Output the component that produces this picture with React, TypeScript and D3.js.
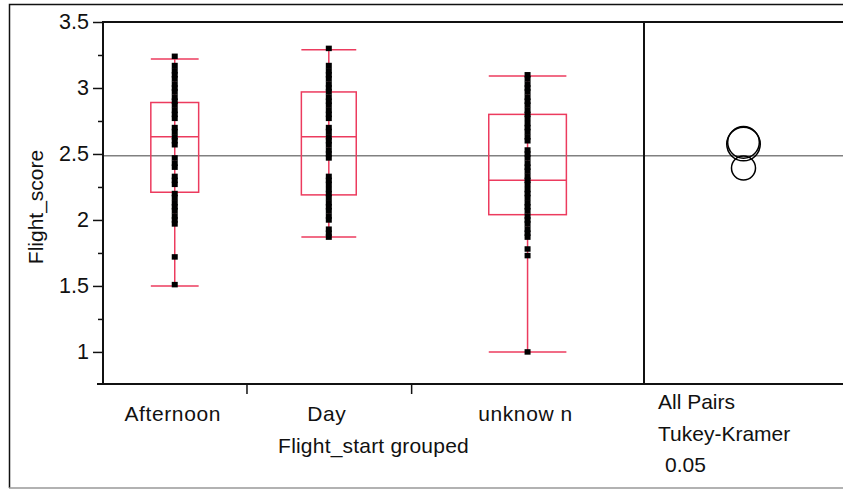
import React, { useRef, useEffect } from 'react';
import * as d3 from 'd3';

// groups on the x axis (JMP draws the widths proportional to group size)
const categories = ["Afternoon", "Day", "unknow n"];
const groupCounts = [61, 70, 99];

// box plot summaries
const lowerWhisker = [1.5, 1.87, 1.0];
const q1Values = [2.21, 2.19, 2.04];
const medians = [2.63, 2.63, 2.3];
const q3Values = [2.89, 2.97, 2.8];
const upperWhisker = [3.22, 3.29, 3.09];
const grandMean = 2.486;

// comparison circles (Tukey-Kramer)
const circleMeans = [2.575, 2.588, 2.394];
const circleRadii = [0.127, 0.12, 0.091];

// raw scores per group
const afternoonScores = [3.24, 3.17, 3.13, 3.1, 3.07, 3.03, 3.0, 2.97, 2.93, 2.9, 2.87, 2.83, 2.8, 2.77,
  2.7, 2.67, 2.63, 2.6, 2.57, 2.47, 2.43, 2.4, 2.33, 2.3, 2.27, 2.2, 2.17, 2.13, 2.1, 2.07, 2.03, 2.0,
  1.97, 1.72, 1.51];
const dayScores = [3.3, 3.17, 3.13, 3.1, 3.07, 3.03, 3.0, 2.97, 2.93, 2.9, 2.87, 2.83, 2.8, 2.77, 2.7,
  2.67, 2.63, 2.6, 2.57, 2.53, 2.5, 2.47, 2.33, 2.3, 2.27, 2.23, 2.2, 2.17, 2.13, 2.1, 2.07, 2.03, 2.0,
  1.93, 1.9, 1.87];
const unknownScores = [3.1, 3.07, 3.03, 3.0, 2.97, 2.93, 2.9, 2.87, 2.83, 2.8, 2.77, 2.73, 2.7, 2.67,
  2.63, 2.6, 2.53, 2.5, 2.47, 2.43, 2.4, 2.37, 2.33, 2.3, 2.27, 2.23, 2.2, 2.17, 2.13, 2.1, 2.07, 2.03,
  2.0, 1.97, 1.93, 1.9, 1.87, 1.78, 1.73, 1.0];

const yMajorTicks = [1, 1.5, 2, 2.5, 3, 3.5];
const yMinorTicks = [1.25, 1.75, 2.25, 2.75, 3.25];

const BOX_COLOR = "#ec3b5e";
const FONT = "'Liberation Sans', Arial, sans-serif";

const App: React.FC = () => {
  const svgRef = useRef<SVGSVGElement>(null);

  useEffect(() => {
    const svg = d3.select(svgRef.current);
    svg.selectAll("*").remove();

    const width = 843;
    const height = 490;
    const plot = { left: 103, right: 644, top: 22, bottom: 384 };
    const panelRight = 843;

    const y = d3.scaleLinear().domain([0.757, 3.5]).range([plot.bottom, plot.top]);

    const cum = d3.cumsum(groupCounts);
    const x = d3.scaleLinear().domain([0, cum[cum.length - 1]]).range([plot.left, plot.right]);
    const starts = groupCounts.map((c, i) => cum[i] - c);
    const centers = groupCounts.map((c, i) => x(starts[i] + c / 2));
    const boxW = groupCounts.map((c, i) => (x(cum[i]) - x(starts[i])) / 3);

    svg.append("rect").attr("width", width).attr("height", height).attr("fill", "#fff");

    // outer frame
    svg.append("path").attr("d", `M9.5,${height - 2}V4.5H${width}`)
      .attr("fill", "none").attr("stroke", "#111").attr("stroke-width", 1.5);
    svg.append("line").attr("x1", 9).attr("x2", width).attr("y1", height - 2).attr("y2", height - 2)
      .attr("stroke", "#999").attr("stroke-width", 1.5);

    // grand mean line
    svg.append("line")
      .attr("x1", plot.left).attr("x2", panelRight)
      .attr("y1", y(grandMean)).attr("y2", y(grandMean))
      .attr("stroke", "#808080").attr("stroke-width", 1.5);

    // whiskers and boxes
    const g = svg.append("g").attr("fill", "none").attr("stroke", BOX_COLOR).attr("stroke-width", 1.5);
    categories.forEach((_, i) => {
      const cx = centers[i];
      const hw = boxW[i] / 2;
      g.append("line").attr("x1", cx).attr("x2", cx)
        .attr("y1", y(lowerWhisker[i])).attr("y2", y(upperWhisker[i]));
      [lowerWhisker[i], upperWhisker[i], medians[i]].forEach(v => {
        g.append("line").attr("x1", cx - hw).attr("x2", cx + hw).attr("y1", y(v)).attr("y2", y(v));
      });
      g.append("rect")
        .attr("x", cx - hw).attr("width", boxW[i])
        .attr("y", y(q3Values[i])).attr("height", y(q1Values[i]) - y(q3Values[i]));
    });

    // points
    const groups = [afternoonScores, dayScores, unknownScores];
    const sw = 6, sh = 5.5;
    groups.forEach((scores, i) => {
      svg.append("g").selectAll("rect").data(scores).join("rect")
        .attr("x", centers[i] - sw / 2)
        .attr("y", d => y(d) - sh / 2)
        .attr("width", sw).attr("height", sh)
        .attr("fill", "#000");
    });

    // comparison circles
    const circleX = (plot.right + panelRight) / 2;
    svg.append("g").selectAll("circle").data(circleMeans).join("circle")
      .attr("cx", circleX)
      .attr("cy", d => y(d))
      .attr("r", (d, i) => y(d - circleRadii[i]) - y(d))
      .attr("fill", "none").attr("stroke", "#000").attr("stroke-width", 1.5);

    // frame lines
    const frame = svg.append("g").attr("stroke", "#111").attr("stroke-width", 2).attr("fill", "none");
    frame.append("path").attr("d", `M${plot.left},${plot.bottom}V${plot.top}H${panelRight}`);
    frame.append("line").attr("x1", plot.left - 6).attr("x2", panelRight)
      .attr("y1", plot.bottom).attr("y2", plot.bottom);
    frame.append("line").attr("x1", plot.right).attr("x2", plot.right)
      .attr("y1", plot.top).attr("y2", plot.bottom);

    // y axis
    const yAxis = svg.append("g").attr("transform", `translate(${plot.left},0)`)
      .call(d3.axisLeft(y).tickValues(yMajorTicks).tickSize(10).tickPadding(4).tickFormat(d3.format("")));
    svg.append("g").attr("transform", `translate(${plot.left},0)`)
      .call(d3.axisLeft(y).tickValues(yMinorTicks).tickSize(5).tickFormat(() => ""))
      .call(s => s.select(".domain").remove())
      .selectAll("line").attr("stroke", "#111").attr("stroke-width", 1.5);
    yAxis.select(".domain").remove();
    yAxis.selectAll("line").attr("stroke", "#111").attr("stroke-width", 1.5);
    yAxis.selectAll("text").attr("font-family", FONT).attr("font-size", 21.5).attr("fill", "#111");

    // x axis
    const xAxis = svg.append("g").attr("transform", `translate(0,${plot.bottom})`)
      .call(d3.axisBottom(x).tickValues(cum.slice(0, -1)).tickSize(10).tickFormat(() => ""));
    xAxis.select(".domain").remove();
    xAxis.selectAll("line").attr("stroke", "#111").attr("stroke-width", 1.5);

    const text = (t: string, tx: number, ty: number, anchor = "middle") =>
      svg.append("text").attr("x", tx).attr("y", ty).attr("text-anchor", anchor)
        .attr("font-family", FONT).attr("font-size", 21).attr("fill", "#111").text(t);

    categories.forEach((c, i) => text(c, centers[i] - 2, 421).attr("letter-spacing", 0.6));
    text("Flight_start grouped", (plot.left + plot.right) / 2, 453).attr("letter-spacing", 0.2);
    text("All Pairs", 658, 409, "start");
    text("Tukey-Kramer", 658, 441, "start");
    text("0.05", 665, 472, "start");

    svg.append("text")
      .attr("transform", `translate(43,${(plot.top + plot.bottom) / 2 + 4}) rotate(-90)`)
      .attr("text-anchor", "middle")
      .attr("font-family", FONT).attr("font-size", 21).attr("fill", "#111")
      .text("Flight_score");
  }, []);

  return <svg ref={svgRef} width="843" height="490" style={{ position: 'absolute', left: 0, top: 0 }}></svg>;
};

export default App;
